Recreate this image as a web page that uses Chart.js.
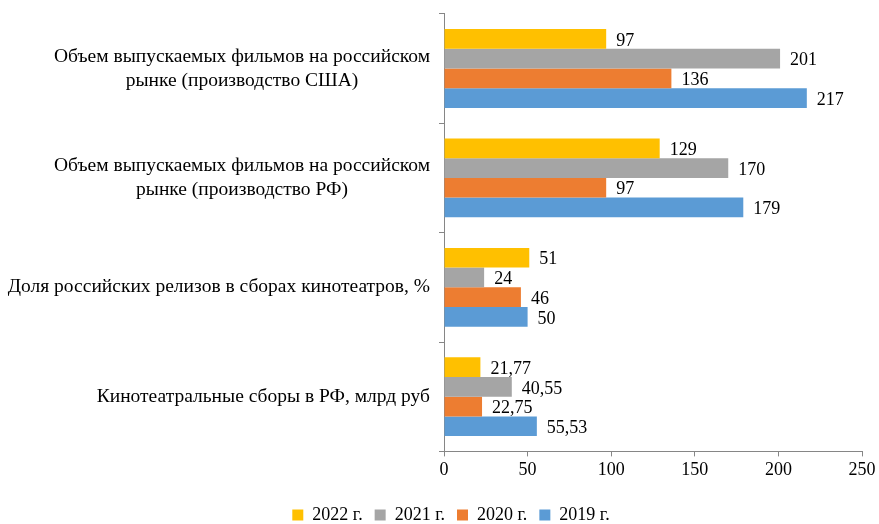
<!DOCTYPE html>
<html>
<head>
<meta charset="utf-8">
<script src="https://cdn.jsdelivr.net/npm/chart.js@4.4.0/dist/chart.umd.min.js"></script>
<style>
  html, body { margin: 0; padding: 0; background: #ffffff; }
  #wrap { width: 879px; height: 524px; position: relative; }
</style>
</head>
<body>
<div id="wrap"><canvas id="c" width="879" height="524"></canvas></div>
<script>
const categories = [
  ["Объем выпускаемых фильмов на российском", "рынке (производство США)"],
  ["Объем выпускаемых фильмов на российском", "рынке (производство РФ)"],
  ["Доля российских релизов в сборах кинотеатров, %"],
  ["Кинотеатральные сборы в РФ, млрд руб"]
];
const seriesNames = ["2022 г.", "2021 г.", "2020 г.", "2019 г."];
const values2022 = [97, 129, 51, 21.77];
const values2021 = [201, 170, 24, 40.55];
const values2020 = [136, 97, 46, 22.75];
const values2019 = [217, 179, 50, 55.53];
const xTicks = [0, 50, 100, 150, 200, 250];
const colors = ["#FFC000", "#A5A5A5", "#ED7D31", "#5B9BD5"];

const FONT = '"Liberation Serif", "Times New Roman", serif';
const FS = 18;
const CAT_FS = 19.5;

const fmt = v => String(v).replace('.', ',');

const valueLabels = {
  id: 'valueLabels',
  afterDatasetsDraw(chart) {
    const ctx = chart.ctx;
    ctx.save();
    ctx.font = FS + 'px ' + FONT;
    ctx.fillStyle = '#000';
    ctx.textAlign = 'left';
    ctx.textBaseline = 'middle';
    chart.data.datasets.forEach((ds, di) => {
      const meta = chart.getDatasetMeta(di);
      meta.data.forEach((bar, i) => {
        ctx.fillText(fmt(ds.data[i]), bar.x + 10, bar.y + 2);
      });
    });
    ctx.restore();
  }
};

const yLabels = {
  id: 'yLabels',
  afterDraw(chart) {
    const s = chart.scales.y;
    const ctx = chart.ctx;
    ctx.save();
    ctx.font = CAT_FS + 'px ' + FONT;
    ctx.fillStyle = '#000';
    ctx.textAlign = 'center';
    ctx.textBaseline = 'middle';
    const rightX = s.right - 14;
    const lh = 24;
    categories.forEach((lines, i) => {
      const y = s.getPixelForTick(i);
      const maxW = Math.max(...lines.map(l => ctx.measureText(l).width));
      const cx = rightX - maxW / 2;
      const y0 = y - (lines.length - 1) * lh / 2;
      lines.forEach((l, k) => ctx.fillText(l, cx, y0 + k * lh));
    });
    ctx.restore();
  }
};

const datasets = [values2022, values2021, values2020, values2019].map((d, i) => ({
  label: seriesNames[i],
  data: d,
  backgroundColor: colors[i],
  borderWidth: 0,
  barPercentage: 1.0,
  categoryPercentage: 0.72
}));

new Chart(document.getElementById('c'), {
  type: 'bar',
  data: { labels: categories.map(l => l.join(' ')), datasets },
  options: {
    indexAxis: 'y',
    responsive: false,
    animation: false,
    layout: { padding: { left: 40, right: 17, top: 12, bottom: -10 } },
    plugins: {
      tooltip: { enabled: false },
      legend: {
        position: 'bottom',
        labels: {
          font: { family: FONT, size: FS },
          color: '#000',
          boxWidth: 11,
          boxHeight: 11,
          padding: 12
        }
      }
    },
    scales: {
      x: {
        min: 0, max: 250,
        afterBuildTicks(scale) { scale.ticks = xTicks.map(v => ({ value: v })); },
        afterFit(scale) { scale.height += 10; scale.paddingRight = 0; scale.paddingLeft = 0; },
        ticks: { font: { family: FONT, size: FS }, color: '#000', padding: 3 },
        grid: { drawOnChartArea: false, drawTicks: true, tickLength: 5, color: '#868686' },
        border: { color: '#868686', width: 1 }
      },
      y: {
        afterFit(scale) { scale.width = 404; },
        ticks: { color: 'rgba(0,0,0,0)', font: { family: FONT, size: FS } },
        grid: { drawOnChartArea: false, drawTicks: true, tickLength: 5, offset: true, color: '#868686' },
        border: { color: '#868686', width: 1 }
      }
    }
  },
  plugins: [valueLabels, yLabels]
});
</script>
</body>
</html>
